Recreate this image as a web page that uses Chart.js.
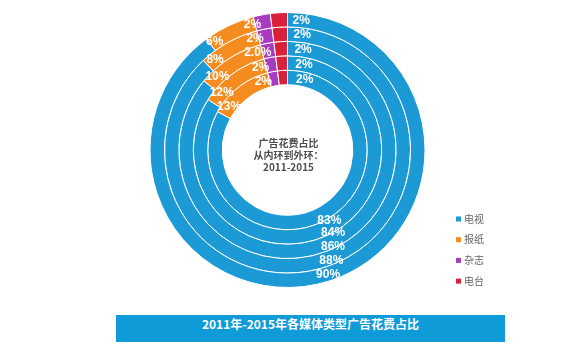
<!DOCTYPE html>
<html>
<head>
<meta charset="utf-8">
<script src="https://cdn.jsdelivr.net/npm/chart.js@4/dist/chart.umd.min.js"></script>
<style>
    body { margin: 0; background: #fff; }
    #wrap { position: relative; width: 575px; height: 353px; }
    #title {
        position: absolute; left: 116px; top: 315px; width: 389px; height: 27px;
        background: #0f9ad8; color: #fff; text-align: center; line-height: 27px;
        font: bold 12px "Noto Sans CJK SC", "Liberation Sans", sans-serif;
    }
</style>
</head>
<body>
<div id="wrap">
    <canvas id="pieChart" width="575" height="353"></canvas>
    <div id="title">2011年-2015年各媒体类型广告花费占比</div>
</div>
<script>
// данные: от внутреннего кольца (2011) к внешнему (2015)
const years = ['2011', '2012', '2013', '2014', '2015'];
const media = ['电视', '报纸', '杂志', '电台'];
const tv = [83, 84, 86, 88, 90];
const newspaper = [13, 12, 10, 8, 6];
const magazine = [2, 2, 2.0, 2, 2];
const radio = [2, 2, 2, 2, 2];
const magazineDecimals = [0, 0, 1, 0, 0];
const centerLines = ['广告花费占比', '从内环到外环：', '2011-2015'];

const colors = ['#1b9ad6', '#f68b1f', '#a83bbf', '#d9213b'];
// сдвиг подписей вдоль дуги (px) и наружу (доля), как в оригинале
const labelShift = [0, -20, -11, 22];
const labelPush = [0.15, 0, 0, 0];

document.addEventListener('DOMContentLoaded', function() {
    const series = [tv, newspaper, magazine, radio];
    // Chart.js рисует первый набор снаружи, поэтому идём с 2015 к 2011
    const datasets = years.map((y, i) => i).reverse().map(i => ({
        label: years[i],
        yearIndex: i,
        data: series.map(s => s[i]),
        backgroundColor: colors,
        borderColor: '#fff',
        borderWidth: 1
    }));

    const labelPlugin = {
        id: 'sliceLabels',
        afterDatasetsDraw(chart) {
            const ctx = chart.ctx;
            const outer = chart.getDatasetMeta(0).data[0].outerRadius;
            ctx.save();
            ctx.fillStyle = '#fff';
            ctx.font = 'bold 12px "Liberation Sans", Arial, sans-serif';
            ctx.textAlign = 'center';
            ctx.textBaseline = 'middle';
            chart.data.datasets.forEach((ds, di) => {
                const meta = chart.getDatasetMeta(di);
                meta.data.forEach((arc, j) => {
                    const p = arc.getProps(['x', 'y', 'startAngle', 'endAngle', 'innerRadius', 'outerRadius'], true);
                    let r = (p.innerRadius + p.outerRadius) / 2;
                    const a = (p.startAngle + p.endAngle) / 2 + labelShift[j] / r;
                    r += (outer - r) * labelPush[j];
                    let v = ds.data[j];
                    let txt = (j === 2 ? v.toFixed(magazineDecimals[ds.yearIndex]) : v) + '%';
                    ctx.fillText(txt, p.x + Math.cos(a) * r, p.y + Math.sin(a) * r);
                });
            });
            ctx.restore();
        }
    };

    const extrasPlugin = {
        id: 'extras',
        afterDraw(chart) {
            const ctx = chart.ctx;
            const meta = chart.getDatasetMeta(0);
            const cx = meta.data[0].x, cy = meta.data[0].y;
            ctx.save();
            // текст в центре
            ctx.fillStyle = '#4d4d4d';
            ctx.font = 'bold 10px "Noto Sans CJK SC", sans-serif';
            ctx.textAlign = 'center';
            ctx.textBaseline = 'middle';
            centerLines.forEach((t, i) => {
                ctx.fillText(t, cx + 1, cy - 7 + i * 12);
            });
            // легенда
            ctx.textAlign = 'left';
            ctx.font = '10px "Noto Sans CJK SC", sans-serif';
            media.forEach((m, i) => {
                const y = 219 + i * 20.7;
                ctx.fillStyle = colors[i];
                ctx.fillRect(456, y - 2.5, 5, 5);
                ctx.fillStyle = '#666';
                ctx.fillText(m, 464, y);
            });
            ctx.restore();
        }
    };

    new Chart(document.getElementById('pieChart'), {
        type: 'doughnut',
        data: { labels: media, datasets: datasets },
        options: {
            responsive: false,
            animation: false,
            cutout: '47.5%',
            layout: { padding: { top: 12, bottom: 65, left: 0, right: 0 } },
            plugins: {
                legend: { display: false },
                tooltip: { enabled: false }
            }
        },
        plugins: [labelPlugin, extrasPlugin]
    });
});
</script>
</body>
</html>
